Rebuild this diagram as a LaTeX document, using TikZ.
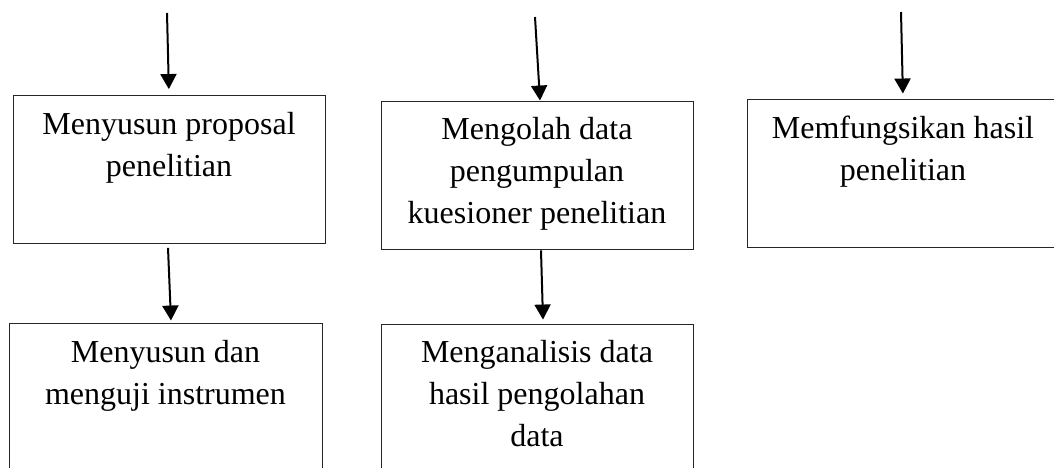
\documentclass[tikz,border=0pt]{standalone}
\usepackage{fontspec}
\setmainfont{Liberation Serif}
\usetikzlibrary{arrows.meta,calc}
\tikzset{
  box/.style={draw=black!85, line width=0.9pt, rectangle, minimum width=312pt, minimum height=148pt, inner sep=0pt},
  txt/.style={anchor=north, align=center, inner sep=0pt, font=\fontsize{32}{42}\selectfont},
  arr/.style={line width=2pt, -{Triangle[width=16pt,length=15pt]}}
}
\begin{document}
\begin{tikzpicture}[x=1pt,y=-1pt]
\useasboundingbox (0,0) rectangle (1054,468);
\clip (0,0) rectangle (1054,468);
% boxes
\node[box] (b1) at (169,169.5) {};
\node[box, minimum width=313pt] (b2) at (165.5,397) {};
\node[box] (b3) at (537,175) {};
\node[box] (b4) at (537,398) {};
\node[box] (b5) at (903,173) {};
% texts
\node[txt] (t1) at ($(b1.north)+(0,17)$) {Menyusun proposal\\penelitian};
\node[txt] (t2) at ($(b2.north)+(0,18)$) {Menyusun dan\\menguji instrumen};
\node[txt] (t3) at ($(b3.north)+(0,17)$) {Mengolah data\\pengumpulan\\kuesioner penelitian};
\node[txt] (t4) at ($(b4.north)+(0,17)$) {Menganalisis data\\hasil pengolahan\\data};
\node[txt] (t5) at ($(b5.north)+(0,17)$) {Memfungsikan hasil\\penelitian};
% free ends
\coordinate (s1) at (167,13);
\coordinate (s3) at (535,17);
\coordinate (s5) at (901,12);
% arrows
\draw[arr, shorten >=6pt] (s1) -- (b1.north);
\draw[arr] ($(b1.south)+(-1,4)$) -- ($(b2.north)+(5.5,-2)$);
\draw[arr] (s3) -- ($(b3.north)+(3,0)$);
\draw[arr] ($(b3.south)+(4,1)$) -- ($(b4.north)+(6,-4)$);
\draw[arr, shorten >=5pt] (s5) -- (b5.north);
\end{tikzpicture}
\end{document}
